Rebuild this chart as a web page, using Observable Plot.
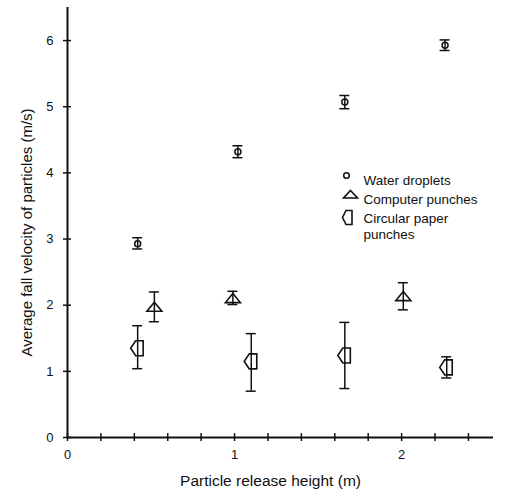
<!DOCTYPE html>
<html>
<head>
<meta charset="utf-8">
<script src="https://cdn.jsdelivr.net/npm/d3@7"></script>
<script src="https://cdn.jsdelivr.net/npm/@observablehq/plot@0.6"></script>
<style>
  html, body { margin: 0; padding: 0; background: #fff; }
  #chart svg { display: block; }
</style>
</head>
<body>
<div id="chart"></div>
<script>
// ---- Data ----
const waterX  = [0.42, 1.02, 1.66, 2.26];
const waterY  = [2.93, 4.32, 5.07, 5.93];
const waterLo = [2.85, 4.23, 4.97, 5.85];
const waterHi = [3.02, 4.41, 5.17, 6.01];

const compX  = [0.52, 0.99, 2.01];
const compY  = [1.97, 2.10, 2.13];
const compLo = [1.75, 2.01, 1.93];
const compHi = [2.20, 2.21, 2.34];

const paperX  = [0.42, 1.10, 1.66, 2.27];
const paperY  = [1.35, 1.15, 1.24, 1.06];
const paperLo = [1.04, 0.70, 0.74, 0.90];
const paperHi = [1.69, 1.57, 1.74, 1.22];

const xTicks = [0, 0.2, 0.4, 0.6, 0.8, 1, 1.2, 1.4, 1.6, 1.8, 2, 2.2, 2.4];
const xTickLabels = [0, 1, 2];
const yTicks = [0, 1, 2, 3, 4, 5, 6];
const yTickLabels = [0, 1, 2, 3, 4, 5, 6];

const seriesNames = ["Water droplets", "Computer punches", "Circular paper", "punches"];
const xLabel = "Particle release height (m)";
const yLabel = "Average fall velocity of particles (m/s)";

// ---- Build tables ----
const rows = (X, Y, L, H) => X.map((x, i) => ({x, y: Y[i], lo: L[i], hi: H[i]}));
const water = rows(waterX, waterY, waterLo, waterHi);
const comp = rows(compX, compY, compLo, compHi);
const paper = rows(paperX, paperY, paperLo, paperHi);

// ---- Custom symbols ----
const triSym = {
  draw(ctx) {
    ctx.moveTo(0, -5);
    ctx.lineTo(7.5, 4);
    ctx.lineTo(-7.5, 4);
    ctx.closePath();
  }
};
const triSymSmall = {
  draw(ctx) {
    ctx.moveTo(0, -4);
    ctx.lineTo(7, 3.5);
    ctx.lineTo(-7, 3.5);
    ctx.closePath();
  }
};
const paperSym = {
  draw(ctx) {
    ctx.moveTo(-7, 0);
    ctx.lineTo(-2, -7.5);
    ctx.lineTo(5.5, -7.5);
    ctx.lineTo(5.5, 7.5);
    ctx.lineTo(-2, 7.5);
    ctx.closePath();
  }
};
const paperSymSmall = {
  draw(ctx) {
    ctx.moveTo(-5, 0);
    ctx.lineTo(-1.5, -7);
    ctx.lineTo(4.5, -7);
    ctx.lineTo(4.5, 7);
    ctx.lineTo(-1.5, 7);
    ctx.closePath();
  }
};

const errMarks = (data) => [
  Plot.ruleX(data, {x: "x", y1: "lo", y2: "hi", stroke: "#111", strokeWidth: 1.5}),
  Plot.ruleY(data, {y: "lo", x1: "x", x2: "x", insetLeft: -5, insetRight: -5, stroke: "#111", strokeWidth: 1.5}),
  Plot.ruleY(data, {y: "hi", x1: "x", x2: "x", insetLeft: -5, insetRight: -5, stroke: "#111", strokeWidth: 1.5})
];

const legendText = (name, dy) =>
  Plot.text([name], {text: d => d, frameAnchor: "top-left", dx: 296, dy, textAnchor: "start", fontSize: 13.5, fill: "#111"});

const chart = Plot.plot({
  width: 505,
  height: 495,
  marginLeft: 67,
  marginRight: 12,
  marginTop: 7,
  marginBottom: 58,
  style: {fontFamily: "'Liberation Sans', Arial, sans-serif", background: "#fff", color: "#111"},
  x: {domain: [0, 2.55], axis: null},
  y: {domain: [0, 6.5], axis: null},
  marks: [
    // axis lines
    Plot.ruleY([0], {stroke: "#111", strokeWidth: 2}),
    Plot.ruleX([0], {stroke: "#111", strokeWidth: 2}),
    // ticks crossing the axes
    Plot.ruleX(xTicks, {x: d => d, y1: d => 0, y2: d => 0, insetTop: -4, insetBottom: -4, stroke: "#111", strokeWidth: 1.5}),
    Plot.ruleY(yTicks, {y: d => d, x1: d => 0, x2: d => 0, insetLeft: -4, insetRight: -4, stroke: "#111", strokeWidth: 1.5}),
    // tick labels
    Plot.text(xTickLabels, {x: d => d, text: d => String(d), frameAnchor: "bottom", dy: 21, fontSize: 13, fill: "#111"}),
    Plot.text(yTickLabels, {y: d => d, text: d => String(d), frameAnchor: "left", dx: -14, textAnchor: "end", fontSize: 13, fill: "#111"}),
    // axis titles
    Plot.text([xLabel], {text: d => d, frameAnchor: "bottom", dx: -10, dy: 48, textAnchor: "middle", fontSize: 15.5, fill: "#111"}),
    Plot.text([yLabel], {text: d => d, frameAnchor: "left", dx: -40, dy: 10, textAnchor: "middle", rotate: -90, fontSize: 15, fill: "#111"}),
    // error bars
    ...errMarks(water),
    ...errMarks(comp),
    ...errMarks(paper),
    // points
    Plot.dot(water, {x: "x", y: "y", r: 3, stroke: "#111", strokeWidth: 1.5, fill: "none"}),
    Plot.dot(comp, {x: "x", y: "y", symbol: triSym, stroke: "#111", strokeWidth: 1.6, fill: "none"}),
    Plot.dot(paper, {x: "x", y: "y", symbol: paperSym, stroke: "#111", strokeWidth: 1.6, fill: "none"}),
    // legend
    Plot.dot([seriesNames[0]], {frameAnchor: "top-left", dx: 279, dy: 168, r: 2.8, stroke: "#111", strokeWidth: 1.5, fill: "none"}),
    Plot.dot([seriesNames[1]], {frameAnchor: "top-left", dx: 283, dy: 187, symbol: triSymSmall, stroke: "#111", strokeWidth: 1.6, fill: "none"}),
    Plot.dot([seriesNames[2]], {frameAnchor: "top-left", dx: 280, dy: 210, symbol: paperSymSmall, stroke: "#111", strokeWidth: 1.6, fill: "none"}),
    legendText(seriesNames[0], 168),
    legendText(seriesNames[1], 187),
    legendText(seriesNames[2], 206),
    legendText(seriesNames[3], 222)
  ]
});

document.getElementById("chart").appendChild(chart);
</script>
</body>
</html>
